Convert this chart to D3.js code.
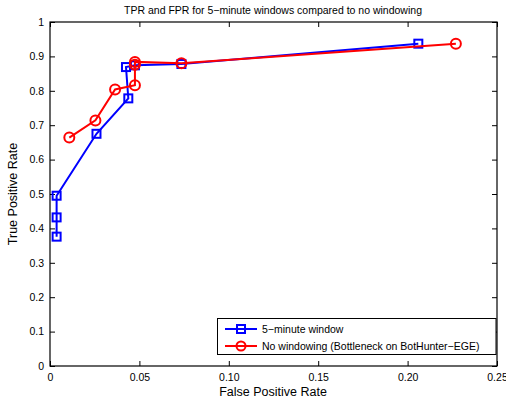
<!DOCTYPE html>
<html><head><meta charset="utf-8">
<script src="https://cdn.jsdelivr.net/npm/d3@7"></script>
<style>body{margin:0;background:#fff}svg{display:block;font-family:"Liberation Sans",Arial,sans-serif}</style>
</head><body>
<svg id="c" width="506" height="402"></svg>
<script>
const xTicks = [0, 0.05, 0.10, 0.15, 0.20, 0.25];
const xTickLabels = ["0", "0.05", "0.10", "0.15", "0.20", "0.25"];
const yTicks = [0, 0.1, 0.2, 0.3, 0.4, 0.5, 0.6, 0.7, 0.8, 0.9, 1];
const yTickLabels = ["0", "0.1", "0.2", "0.3", "0.4", "0.5", "0.6", "0.7", "0.8", "0.9", "1"];
const windowFPR = [0.0037, 0.0037, 0.0037, 0.026, 0.0438, 0.0425, 0.0475, 0.0735, 0.206];
const windowTPR = [0.376, 0.432, 0.495, 0.675, 0.778, 0.869, 0.874, 0.878, 0.937];
const noWinFPR = [0.0108, 0.0254, 0.0364, 0.0475, 0.0475, 0.0475, 0.0735, 0.227];
const noWinTPR = [0.664, 0.714, 0.804, 0.816, 0.876, 0.884, 0.880, 0.937];
const seriesNames = ["5\u2212minute window", "No windowing (Bottleneck on BotHunter\u2212EGE)"];

const svg = d3.select("#c");
const L = 50, R = 497, T = 22, B = 366;
const x = d3.scaleLinear().domain([0, 0.25]).range([L, R]);
const y = d3.scaleLinear().domain([0, 1]).range([B, T]);

// axes
const gx = svg.append("g").attr("transform", `translate(0,${B})`)
  .call(d3.axisBottom(x).tickValues(xTicks).tickFormat((d, i) => xTickLabels[i]).tickSizeInner(-5).tickSizeOuter(0).tickPadding(8));
const gxt = svg.append("g").attr("transform", `translate(0,${T})`)
  .call(d3.axisTop(x).tickValues(xTicks).tickFormat("").tickSizeInner(-5).tickSizeOuter(0));
const gy = svg.append("g").attr("transform", `translate(${L},0)`)
  .call(d3.axisLeft(y).tickValues(yTicks).tickFormat((d, i) => yTickLabels[i]).tickSizeInner(-5).tickSizeOuter(0).tickPadding(6));
const gyr = svg.append("g").attr("transform", `translate(${R},0)`)
  .call(d3.axisRight(y).tickValues(yTicks).tickFormat("").tickSizeInner(-5).tickSizeOuter(0));
[gx, gxt, gy, gyr].forEach(g => {
  g.select(".domain").remove();
  g.selectAll("line").attr("stroke", "#000").attr("stroke-width", 1);
  g.selectAll("text").attr("font-size", 10.5).attr("fill", "#000").attr("font-family", "Liberation Sans, Arial, sans-serif");
});
svg.append("rect").attr("x", L).attr("y", T).attr("width", R - L).attr("height", B - T)
  .attr("fill", "none").attr("stroke", "#000").attr("stroke-width", 1.2);

// series
function drawSeries(fx, fy, color, marker) {
  const pts = fx.map((v, i) => [x(v), y(fy[i])]);
  svg.append("path").attr("d", d3.line()(pts)).attr("fill", "none").attr("stroke", color).attr("stroke-width", 2);
  pts.forEach(p => drawMarker(p[0], p[1], color, marker));
}
function drawMarker(px, py, color, marker) {
  if (marker === "s") {
    svg.append("rect").attr("x", px - 4).attr("y", py - 4).attr("width", 8).attr("height", 8)
      .attr("fill", "none").attr("stroke", color).attr("stroke-width", 2);
  } else {
    svg.append("circle").attr("cx", px).attr("cy", py).attr("r", 5)
      .attr("fill", "none").attr("stroke", color).attr("stroke-width", 2);
  }
}
drawSeries(windowFPR, windowTPR, "#0000ff", "s");
drawSeries(noWinFPR, noWinTPR, "#ff0000", "o");

// legend
const lg = svg.append("g");
lg.append("rect").attr("x", 217.5).attr("y", 318.5).attr("width", 278.5).attr("height", 36)
  .attr("fill", "#fff").attr("stroke", "#000").attr("stroke-width", 1);
[["#0000ff", "s"], ["#ff0000", "o"]].forEach((s, i) => {
  const ly = 329 + i * 17;
  lg.append("line").attr("x1", 225).attr("x2", 257).attr("y1", ly).attr("y2", ly).attr("stroke", s[0]).attr("stroke-width", 2);
  if (s[1] === "s") {
    lg.append("rect").attr("x", 237).attr("y", ly - 4).attr("width", 8).attr("height", 8).attr("fill", "none").attr("stroke", s[0]).attr("stroke-width", 2);
  } else {
    lg.append("circle").attr("cx", 241).attr("cy", ly).attr("r", 4.5).attr("fill", "none").attr("stroke", s[0]).attr("stroke-width", 2);
  }
  lg.append("text").attr("x", 262).attr("y", ly + 3.5).attr("font-size", 10.5).text(seriesNames[i]);
});

// titles
svg.append("text").attr("x", 273).attr("y", 14).attr("text-anchor", "middle").attr("font-size", 10.5)
  .text("TPR and FPR for 5\u2212minute windows compared to no windowing");
svg.append("text").attr("x", 273).attr("y", 396).attr("text-anchor", "middle").attr("font-size", 12.5)
  .text("False Positive Rate");
svg.append("text").attr("transform", "translate(17,194) rotate(-90)").attr("text-anchor", "middle").attr("font-size", 12.5)
  .text("True Positive Rate");
</script>
</body></html>
